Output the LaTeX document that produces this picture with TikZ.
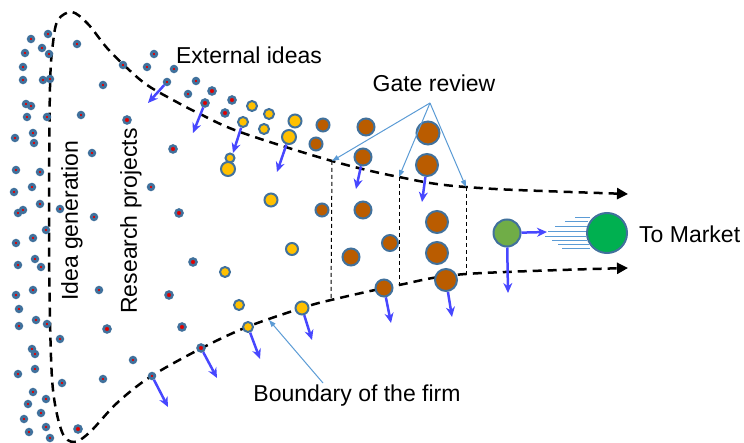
\documentclass[tikz,border=0pt]{standalone}
\usepackage{fontspec}
\setmainfont{Liberation Sans}
\usetikzlibrary{arrows.meta}
\definecolor{dotblue}{HTML}{41719C}
\definecolor{dotred}{HTML}{E00000}
\definecolor{ideayel}{HTML}{FFC000}
\definecolor{projbrown}{HTML}{BA5C00}
\definecolor{lightgreen}{HTML}{70AD47}
\definecolor{darkgreen}{HTML}{00B050}
\definecolor{flowblue}{HTML}{4747FF}
\definecolor{callblue}{HTML}{5B9BD5}
\tikzset{
  sdot/.style={circle, inner sep=0pt, minimum size=5.5pt, line width=2.8pt, draw=dotblue, fill=dotred},
  mdot/.style={circle, inner sep=0pt, minimum size=7pt, line width=2.5pt, draw=dotblue, fill=dotred},
  ydot/.style={circle, inner sep=0pt, minimum size=#1, line width=2pt, draw=dotblue, fill=ideayel},
  bdot/.style={circle, inner sep=0pt, minimum size=#1, line width=2pt, draw=dotblue, fill=projbrown},
  gdot/.style={circle, inner sep=0pt, minimum size=#1, line width=2pt, draw=dotblue},
  flow/.style={draw=flowblue, line width=2.5pt, -{Stealth[length=10pt,width=9pt]}},
  callout/.style={draw=callblue, line width=1pt, -{Triangle[length=7pt,width=5pt]}},
  funnel/.style={line width=2.5pt, dash pattern=on 9pt off 6pt},
  gateline/.style={line width=1pt, dash pattern=on 4pt off 3pt},
  speed/.style={draw=callblue, line width=1pt},
  lbl/.style={font=\fontsize{23}{27}\selectfont, inner sep=0pt}
}
\begin{document}
\begin{tikzpicture}[x=1pt,y=-1pt]
\useasboundingbox (0,0) rectangle (744,443);

% funnel boundary
\draw[funnel, {Triangle[length=11pt,width=11pt]}-{Triangle[length=11pt,width=11pt]}]
  plot[smooth, tension=0.55] coordinates {
  (628,194) (466,187) (399,177) (332,161) (240,132) (198,113) (173,100) (147,85)
  (127,68) (107,48) (88,24) (72,12) (58,20) (53,43) (50,87) (49,220) (50,320)
  (53,390) (62,432) (74,442) (90,432) (117,403) (150,377) (200,349) (247,327)
  (302,308) (331,300) (399,285) (466,274) (628,268)};

% small idea dots
\foreach \x/\y [count=\i] in {31/39,48/34,42/48,49/54,25/53,23/67,23/80,43/80,50/79,
  26/104,31/106,27/117,47/117,33/133,15/138,34/143,16/170,40/172,14/192,32/187,
  40/204,18/213,23/210,46/230,16/243,33/238,18/265,35/259,41/267,16/295,33/290,
  19/309,19/326,36/320,47/324,60/339,32/349,35/354,35/369,18/374,62/383,33/392,
  46/399,28/404,41/413,24/419,46/427,29/432,50/438,60/209,
  77/44,103/85,81/115,92/153,94/217,99/290,103/379,133/360,
  154/54,147/67,123/65,174/69,196/81,188/94,151/187}
  \node[sdot] (s\i) at (\x,\y) {};

% medium research dots
\foreach \x/\y [count=\i] in {127/120,107/329,78/429,212/91,232/100,225/113,
  173/149,179/213,169/295,193/262,182/327}
  \node[mdot] (m\i) at (\x,\y) {};

% dots leaving through the boundary
\node[sdot] (sa) at (167,82) {};
\node[mdot] (ma) at (205,103) {};
\node[mdot] (mb) at (201,348) {};
\node[sdot] (sb) at (152,376) {};

% yellow dots
\foreach \x/\y/\d [count=\i] in {252/106/10,269/114/10,264/129/10,295/121/13,
  230/158/9,228/169/14,271/200/13,225/272/10,239/305/10,292/249/12}
  \node[ydot=\d pt] (y\i) at (\x,\y) {};
\node[ydot=10pt] (ya) at (243,122) {};
\node[ydot=14pt] (yb) at (289,137) {};
\node[ydot=10pt] (yc) at (248,327) {};
\node[ydot=13pt] (yd) at (302,308) {};

% brown dots
\foreach \x/\y/\d [count=\i] in {323/125/13,316/144/13,366/127/17,428/133/23,
  322/210/13,363/210/17,437/222/22,437/253/22,390/243/16,351/257/17}
  \node[bdot=\d pt] (b\i) at (\x,\y) {};
\node[bdot=17pt] (ba) at (363,157) {};
\node[bdot=22pt] (bb) at (427,165) {};
\node[bdot=17pt] (bc) at (384,288) {};
\node[bdot=22pt] (bd) at (446,280) {};

% green products
\node[gdot=27pt, fill=lightgreen] (g1) at (507,233) {};
\node[gdot=40pt, fill=darkgreen] (g2) at (607,233) {};

% outgoing arrows
\coordinate (sae) at (148,103);
\coordinate (mae) at (193,133);
\coordinate (yae) at (233,153);
\coordinate (ybe) at (277,172);
\coordinate (bae) at (356,189);
\coordinate (bbe) at (422,202);
\coordinate (yce) at (260,359);
\coordinate (yde) at (312,340);
\coordinate (mbe) at (217,378);
\coordinate (sbe) at (168,407);
\coordinate (bce) at (391,323);
\coordinate (bde) at (452,317);
\coordinate (g1d) at (508,293);
\coordinate (g1r) at (547,232);
\draw[flow] (sa) -- (sae);
\draw[flow] (ma) -- (mae);
\draw[flow] (ya) -- (yae);
\draw[flow] (yb) -- (ybe);
\draw[flow] (ba) -- (bae);
\draw[flow] (bb) -- (bbe);
\draw[flow] (yc) -- (yce);
\draw[flow] (yd) -- (yde);
\draw[flow] (mb) -- (mbe);
\draw[flow] (sb) -- (sbe);
\draw[flow] (bc) -- (bce);
\draw[flow] (bd) -- (bde);
\draw[flow] (g1) -- (g1d);
\draw[flow] (g1) -- (g1r);

% speed lines
\draw[speed] (575,218) -- (590,218);
\draw[speed] (565,222) -- (588,222);
\draw[speed] (555,227) -- (587,227);
\draw[speed] (548,232) -- (586,232);
\draw[speed] (545,237) -- (586,237);
\draw[speed] (552,241) -- (587,241);
\draw[speed] (558,245) -- (589,245);
\draw[speed] (562,249) -- (590,249);

% gates
\coordinate (gt1) at (332,161);
\coordinate (gt2) at (399,177);
\coordinate (gt3) at (466,187);
\coordinate (gb1) at (331,300);
\coordinate (gb2) at (399,285);
\coordinate (gb3) at (466,274);
\draw[gateline] (gt1) -- (gb1);
\draw[gateline] (gt2) -- (gb2);
\draw[gateline] (gt3) -- (gb3);

% labels
\node[lbl] (ext) at (249,55) {External ideas};
\node[lbl] (gate) at (434,83) {Gate review};
\node[lbl] (bound) at (357,396) {Boundary of the firm};
\node[lbl, anchor=west] (market) at (639,234) {To Market};
\node[lbl, rotate=90] (idea) at (72,221) {Idea generation};
\node[lbl, rotate=90] (research) at (131,221) {Research projects};

% callouts
\coordinate (gsrc) at (430,103);
\draw[callout] (gsrc) -- (gt1);
\draw[callout] (gsrc) -- (gt2);
\draw[callout] (gsrc) -- (gt3);
\coordinate (bsrc) at (323,383);
\coordinate (btgt) at (269,320);
\draw[callout] (bsrc) -- (btgt);
\end{tikzpicture}
\end{document}
